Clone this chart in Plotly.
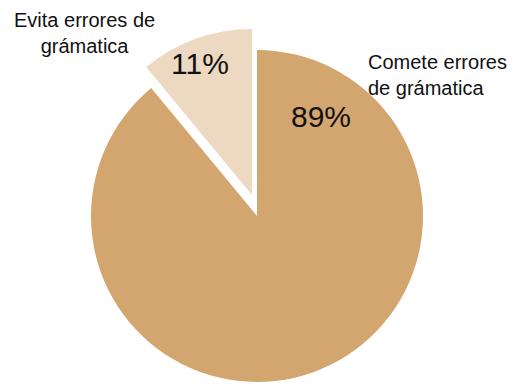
import plotly.graph_objects as go

# Data
labels = ["Comete errores de grámatica", "Evita errores de grámatica"]
values = [89, 11]
label_texts = ["Comete errores<br>de grámatica", "Evita errores de<br>grámatica"]
colors = ["#D3A66F", "#EDD9C1"]

# page body has an 8px default margin; size the figure to fill the rest
OFF = 8
W, H = 516 - OFF, 387 - OFF

def dom(cx, cy, r):
    cx -= OFF
    cy -= OFF
    return dict(x=[(cx - r) / W, (cx + r) / W],
                y=[1 - (cy + r) / H, 1 - (cy - r) / H])

def px(x, y):
    return (x - OFF) / W, 1 - (y - OFF) / H

fig = go.Figure()

# Main (large) slice
fig.add_trace(go.Pie(
    labels=labels, values=values, sort=False, direction="clockwise", rotation=0,
    marker=dict(colors=[colors[0], "rgba(0,0,0,0)"], line=dict(width=0)),
    textinfo="none", hoverinfo="skip", showlegend=False,
    domain=dom(257, 216, 166),
))
# Exploded small slice
fig.add_trace(go.Pie(
    labels=labels, values=values, sort=False, direction="clockwise", rotation=0,
    marker=dict(colors=["rgba(0,0,0,0)", colors[1]], line=dict(width=0)),
    textinfo="none", hoverinfo="skip", showlegend=False,
    domain=dom(252, 195, 166),
))

font_family = "Liberation Sans, Arial, Helvetica, sans-serif"

annos = []
# percentages
for v, (x, y) in zip(values, [(321, 116), (200, 64)]):
    ax, ay = px(x, y)
    annos.append(dict(x=ax, y=ay, xref="paper", yref="paper", text=f"{v}%",
                      showarrow=False, xanchor="center", yanchor="middle",
                      font=dict(size=30, color="#111111", family=font_family)))
# labels
ax, ay = px(366, 75)
annos.append(dict(x=ax, y=ay, xref="paper", yref="paper", text=label_texts[0],
                  showarrow=False, xanchor="left", yanchor="middle", align="left",
                  font=dict(size=20, color="#111111", family=font_family)))
ax, ay = px(84.5, 33)
annos.append(dict(x=ax, y=ay, xref="paper", yref="paper", text=label_texts[1],
                  showarrow=False, xanchor="center", yanchor="middle", align="center",
                  font=dict(size=20, color="#111111", family=font_family)))

fig.update_layout(
    width=W, height=H,
    margin=dict(l=0, r=0, t=0, b=0),
    paper_bgcolor="white", plot_bgcolor="white",
    annotations=annos,
    showlegend=False,
)

fig.write_html("out.html")
